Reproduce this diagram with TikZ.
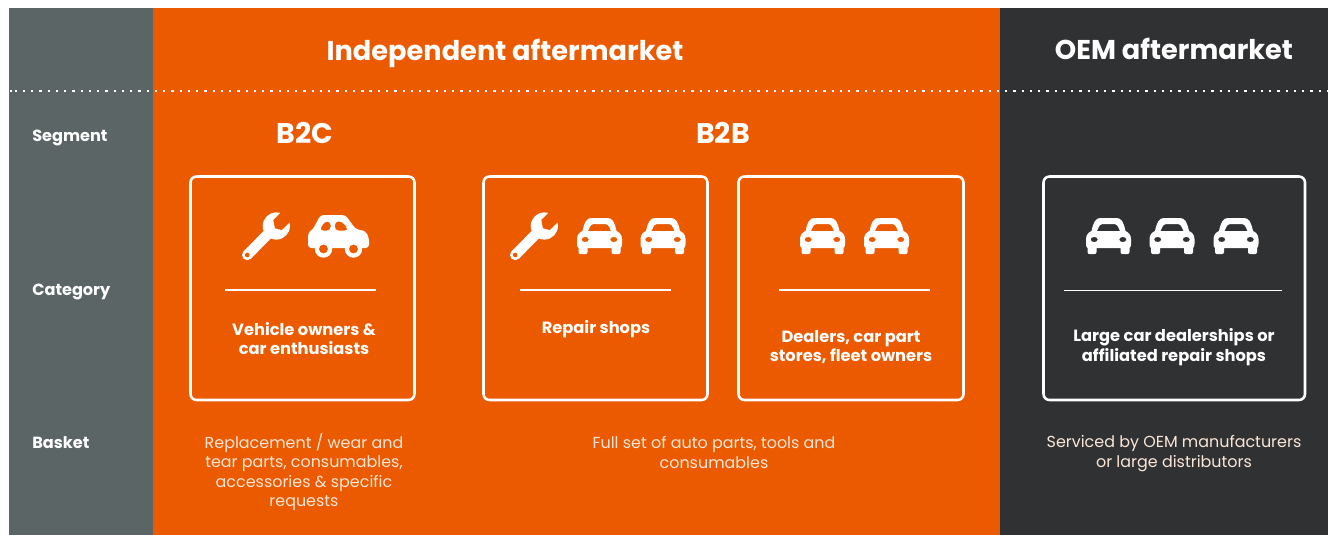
\documentclass[tikz,border=0pt]{standalone}
\usepackage{fontspec}
\setmainfont{Poppins}
\definecolor{greyband}{HTML}{5C6566}
\definecolor{orangeband}{HTML}{EC5A00}
\definecolor{darkband}{HTML}{303133}
\definecolor{softtext}{HTML}{FBE6D8}
\tikzset{
  x=0.75pt,y=-0.75pt,
  band/.style={fill=#1,draw=none},
  headtext/.style={text=white,anchor=base,font=\bfseries\fontsize{20.4}{24}\selectfont,inner sep=0pt},
  subhead/.style={text=white,anchor=base,font=\bfseries\fontsize{21.3}{24}\selectfont,inner sep=0pt},
  rowlabel/.style={text=white,anchor=base west,font=\bfseries\fontsize{12.1}{14}\selectfont,inner sep=0pt},
  cardtext/.style={text=white,align=center,font=\bfseries\fontsize{12.2}{14.8}\selectfont,inner sep=0pt},
  baskettext/.style={text=softtext,align=center,font=\fontsize{11.95}{14.6}\selectfont,inner sep=0pt},
  card/.style={draw=white,line width=1.9pt,rounded corners=4.5pt,fill=none},
  divider/.style={draw=white,line width=#1},
  pics/wrenchicon/.style={code={
    \draw[white,line width=7.8pt,line cap=round] (-18.8,19) -- (6,-6);
    \fill[white] (10.3,-10) circle[radius=13.6];
    \fill[orangeband] (14,-22.7) -- (7.3,-16) -- (9,-7.7) -- (15.7,-6) -- (23.3,-13.3) -- (30,-20) -- (20,-30) -- cycle;
    \fill[orangeband] (-18.8,19) circle[radius=2.3];
  }},
  pics/frontcar/.style={code={
    \fill[white,even odd rule]
      (-8,-18) -- (8,-18) .. controls (13,-18) and (15,-14) .. (17,-5)
      .. controls (19,-4) and (22.5,-2) .. (22.5,3) -- (22.5,8)
      .. controls (22.5,10) and (22,11.5) .. (21,12) -- (21,16)
      .. controls (21,17.5) and (20,18) .. (19,18) -- (14,18)
      .. controls (13,18) and (12,17.5) .. (12,16) -- (12,12) -- (-12,12) -- (-12,16)
      .. controls (-12,17.5) and (-13,18) .. (-14,18) -- (-19,18)
      .. controls (-20,18) and (-21,17.5) .. (-21,16) -- (-21,12)
      .. controls (-22,11.5) and (-22.5,10) .. (-22.5,8) -- (-22.5,3)
      .. controls (-22.5,-2) and (-19,-4) .. (-17,-5)
      .. controls (-15,-14) and (-13,-18) .. (-8,-18) -- cycle
      (-6,-12) -- (6,-12) .. controls (8,-12) and (9,-11) .. (11.5,-5) -- (-11.5,-5) .. controls (-9,-11) and (-8,-12) .. (-6,-12) -- cycle
      (-14.3,3.5) ellipse[x radius=3.6,y radius=2.6]
      (14.3,3.5) ellipse[x radius=3.6,y radius=2.6];
  }},
  pics/sidecar/.style={code={
    \fill[white,even odd rule,rounded corners=2.5pt]
      (-30.5,12) -- (-30.5,-3.5) -- (-26,-6) -- (-18,-21) -- (7,-21) -- (17,-7) -- (27,-5) -- (30.5,2) -- (30.5,12) -- cycle
      (-14,-14.5) -- (-8,-14.5) -- (-8,-5.5) -- (-19,-5.5) -- cycle
      (-3.5,-14.5) -- (4,-14.5) -- (10,-5.5) -- (-3.5,-5.5) -- cycle;
    \fill[white] (-15,13) circle[radius=8.7] (15,13) circle[radius=8.7];
    \fill[orangeband] (-15,13) circle[radius=4.4] (15,13) circle[radius=4.4];
  }}
}
\begin{document}
\begin{tikzpicture}
\useasboundingbox (0,0) rectangle (1328,535);
\fill[white] (0,0) rectangle (1328,535);
\fill[band=greyband] (9,8) rectangle (153,535);
\fill[band=orangeband] (153,8) rectangle (1000,535);
\fill[band=darkband] (1000,8) rectangle (1328,535);

\coordinate (dotA) at (10,91);
\coordinate (dotB) at (12.4,91);
\coordinate (dotC) at (14.6,91);
\coordinate (dotD) at (1328,91);
\draw[white,line width=1.7pt] (dotA) -- (dotB);
\draw[white,line width=1.7pt,dash pattern=on 1.7pt off 4.49pt] (dotC) -- (dotD);

\node[headtext] (ia) at (505,60.5) {Independent aftermarket};
\node[headtext] (oa) at (1174,60) {OEM aftermarket};
\node[subhead] (b2c) at (305,143) {B2C};
\node[subhead] (b2b) at (723,143) {B2B};

\node[rowlabel] (seg) at (32,142) {Segment};
\node[rowlabel] (cat) at (32,295) {Category};
\node[rowlabel] (bas) at (32,448) {Basket};

\draw[card] (190.5,176.5) rectangle (414.5,400);
\draw[card] (483.5,176.5) rectangle (707.5,400);
\draw[card] (738.5,176.5) rectangle (963.5,400);
\draw[card] (1043.5,176.5) rectangle (1305,400);

\pic at (266,236) {wrenchicon};
\pic at (338.5,236) {sidecar};
\pic at (534,236) {wrenchicon};
\pic at (599.5,236) {frontcar};
\pic at (663,236) {frontcar};
\pic at (822.5,236) {frontcar};
\pic at (886.5,236) {frontcar};
\pic at (1108.5,236) {frontcar};
\pic at (1172,236) {frontcar};
\pic at (1236,236) {frontcar};

\coordinate (s1a) at (225,290); \coordinate (s1b) at (376,290);
\coordinate (s2a) at (520,290); \coordinate (s2b) at (671,290);
\coordinate (s3a) at (779,290); \coordinate (s3b) at (930,290);
\coordinate (s4a) at (1064,290); \coordinate (s4b) at (1282,290);
\draw[divider=1.5pt] (s1a) -- (s1b);
\draw[divider=1.5pt] (s2a) -- (s2b);
\draw[divider=1.5pt] (s3a) -- (s3b);
\draw[divider=0.7pt] (s4a) -- (s4b);

\node[cardtext] (t1) at (304,338.5) {Vehicle owners \&\\car enthusiasts};
\node[cardtext] (t2) at (596,329) {Repair shops};
\node[cardtext] (t3) at (851,347) {Dealers, car part\\stores, fleet owners};
\node[cardtext] (t4) at (1174,347) {Large car dealerships or\\affiliated repair shops};

\node[baskettext] (k1) at (304,472) {Replacement / wear and\\tear parts, consumables,\\accessories \& specific\\requests};
\node[baskettext] (k2) at (714,452.5) {Full set of auto parts, tools and\\consumables};
\node[baskettext] (k3) at (1174,453.5) {Serviced by OEM manufacturers\\or large distributors};
\end{tikzpicture}
\end{document}
